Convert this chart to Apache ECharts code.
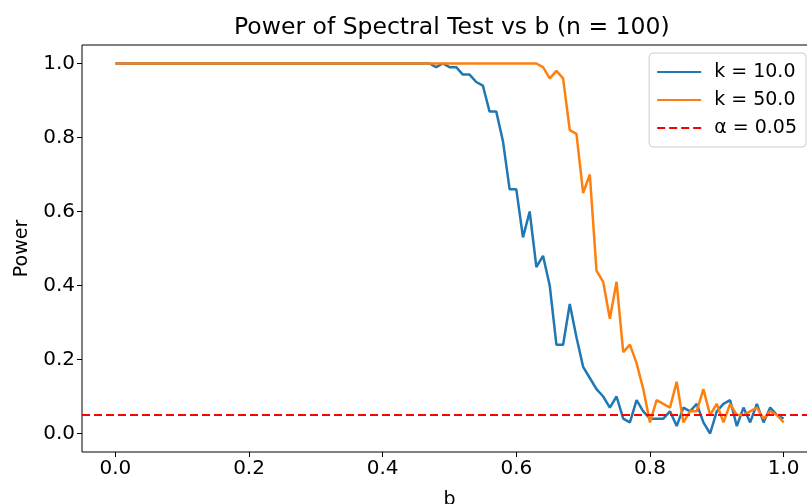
<!DOCTYPE html>
<html><head><meta charset="utf-8">
<script src="https://cdn.jsdelivr.net/npm/echarts@6/dist/echarts.min.js"></script>
<style>html,body{margin:0;padding:0;background:#fff}#c{width:807px;height:504px}</style>
</head><body><div id="c"></div>
<script>
const bValues = [
  0.00,0.01,0.02,0.03,0.04,0.05,0.06,0.07,0.08,0.09,
  0.10,0.11,0.12,0.13,0.14,0.15,0.16,0.17,0.18,0.19,
  0.20,0.21,0.22,0.23,0.24,0.25,0.26,0.27,0.28,0.29,
  0.30,0.31,0.32,0.33,0.34,0.35,0.36,0.37,0.38,0.39,
  0.40,0.41,0.42,0.43,0.44,0.45,0.46,0.47,0.48,0.49,
  0.50,0.51,0.52,0.53,0.54,0.55,0.56,0.57,0.58,0.59,
  0.60,0.61,0.62,0.63,0.64,0.65,0.66,0.67,0.68,0.69,
  0.70,0.71,0.72,0.73,0.74,0.75,0.76,0.77,0.78,0.79,
  0.80,0.81,0.82,0.83,0.84,0.85,0.86,0.87,0.88,0.89,
  0.90,0.91,0.92,0.93,0.94,0.95,0.96,0.97,0.98,0.99,
  1.00
];
const powerK10 = [
  1,1,1,1,1,1,1,1,1,1,
  1,1,1,1,1,1,1,1,1,1,
  1,1,1,1,1,1,1,1,1,1,
  1,1,1,1,1,1,1,1,1,1,
  1,1,1,1,1,1,1,1.00,0.99,1.00,
  0.99,0.99,0.97,0.97,0.95,0.94,0.87,0.87,0.79,0.66,
  0.66,0.53,0.60,0.45,0.48,0.40,0.24,0.24,0.35,0.26,
  0.18,0.15,0.12,0.10,0.07,0.10,0.04,0.03,0.09,0.06,
  0.04,0.04,0.04,0.06,0.02,0.07,0.06,0.08,0.03,0.00,
  0.06,0.08,0.09,0.02,0.07,0.03,0.08,0.03,0.07,0.05,
  0.04
];
const powerK50 = [
  1,1,1,1,1,1,1,1,1,1,
  1,1,1,1,1,1,1,1,1,1,
  1,1,1,1,1,1,1,1,1,1,
  1,1,1,1,1,1,1,1,1,1,
  1,1,1,1,1,1,1,1,1,1,
  1,1,1,1,1,1,1,1,1,1,
  1,1,1,1,0.99,0.96,0.98,0.96,0.82,0.81,
  0.65,0.70,0.44,0.41,0.31,0.41,0.22,0.24,0.19,0.12,
  0.03,0.09,0.08,0.07,0.14,0.03,0.06,0.06,0.12,0.05,
  0.08,0.03,0.08,0.05,0.05,0.06,0.07,0.04,0.06,0.05,
  0.03
];
const alphaLevel = 0.05;
const alphaSpan = [-0.05, 1.05];
const xTicks = [0.0, 0.2, 0.4, 0.6, 0.8, 1.0];
const yTicks = [0.0, 0.2, 0.4, 0.6, 0.8, 1.0];
const seriesNames = ['k = 10.0', 'k = 50.0', 'α = 0.05'];
const titleText = 'Power of Spectral Test vs b (n = 100)';

const FONT = 'DejaVu Sans';
const pair = (xs, ys) => xs.map((x, i) => [x, ys[i]]);

const chart = echarts.init(document.getElementById('c'), null, {renderer: 'canvas'});
chart.setOption({
  animation: false,
  backgroundColor: '#ffffff',
  title: {
    text: titleText, left: 229, top: 11,
    textStyle: {fontFamily: FONT, fontSize: 23.5, fontWeight: 'normal', color: '#000'}
  },
  grid: {left: 82, top: 45, right: -10, bottom: 52, show: true, borderColor: '#000', borderWidth: 1, containLabel: false, outerBoundsMode: 'none'},
  legend: {
    orient: 'vertical', right: 1, top: 53,
    data: seriesNames,
    itemWidth: 44, itemHeight: 14, itemGap: 8,
    padding: [9, 9, 9, 7],
    itemStyle: {opacity: 0},
    backgroundColor: 'rgba(255,255,255,0.8)', borderColor: '#cccccc', borderWidth: 1, borderRadius: 4,
    textStyle: {fontFamily: FONT, fontSize: 19, lineHeight: 20, color: '#000', padding: [0, 0, 0, 8]}
  },
  xAxis: {
    type: 'value', min: -0.05, max: 1.05,
    name: 'b', nameLocation: 'middle', nameGap: 39,
    nameTextStyle: {fontFamily: FONT, fontSize: 19, color: '#000'},
    axisLine: {show: false, onZero: false},
    splitLine: {show: false},
    axisTick: {show: true, inside: false, customValues: xTicks, length: 5, lineStyle: {color: '#000', width: 1}},
    axisLabel: {customValues: xTicks, formatter: v => v.toFixed(1), fontFamily: FONT, fontSize: 20, color: '#000', margin: 7}
  },
  yAxis: {
    type: 'value', min: -0.05, max: 1.05,
    name: 'Power', nameLocation: 'middle', nameGap: 50,
    nameTextStyle: {fontFamily: FONT, fontSize: 19, color: '#000'},
    axisLine: {show: false, onZero: false},
    splitLine: {show: false},
    axisTick: {show: true, inside: false, customValues: yTicks, length: 5, lineStyle: {color: '#000', width: 1}},
    axisLabel: {customValues: yTicks, formatter: v => v.toFixed(1), fontFamily: FONT, fontSize: 20, color: '#000', margin: 7}
  },
  series: [
    {name: seriesNames[0], type: 'line', data: pair(bValues, powerK10), symbol: 'none', showSymbol: false,
     color: '#1f77b4', lineStyle: {color: '#1f77b4', width: 2.5}, z: 2},
    {name: seriesNames[1], type: 'line', data: pair(bValues, powerK50), symbol: 'none', showSymbol: false,
     color: '#ff7f0e', lineStyle: {color: '#ff7f0e', width: 2.5}, z: 3},
    {name: seriesNames[2], type: 'line', data: alphaSpan.map(x => [x, alphaLevel]), symbol: 'none', showSymbol: false,
     color: '#ff0000', lineStyle: {color: '#ff0000', width: 2.2, type: [8, 4]}, z: 4}
  ]
});
</script>
</body></html>
